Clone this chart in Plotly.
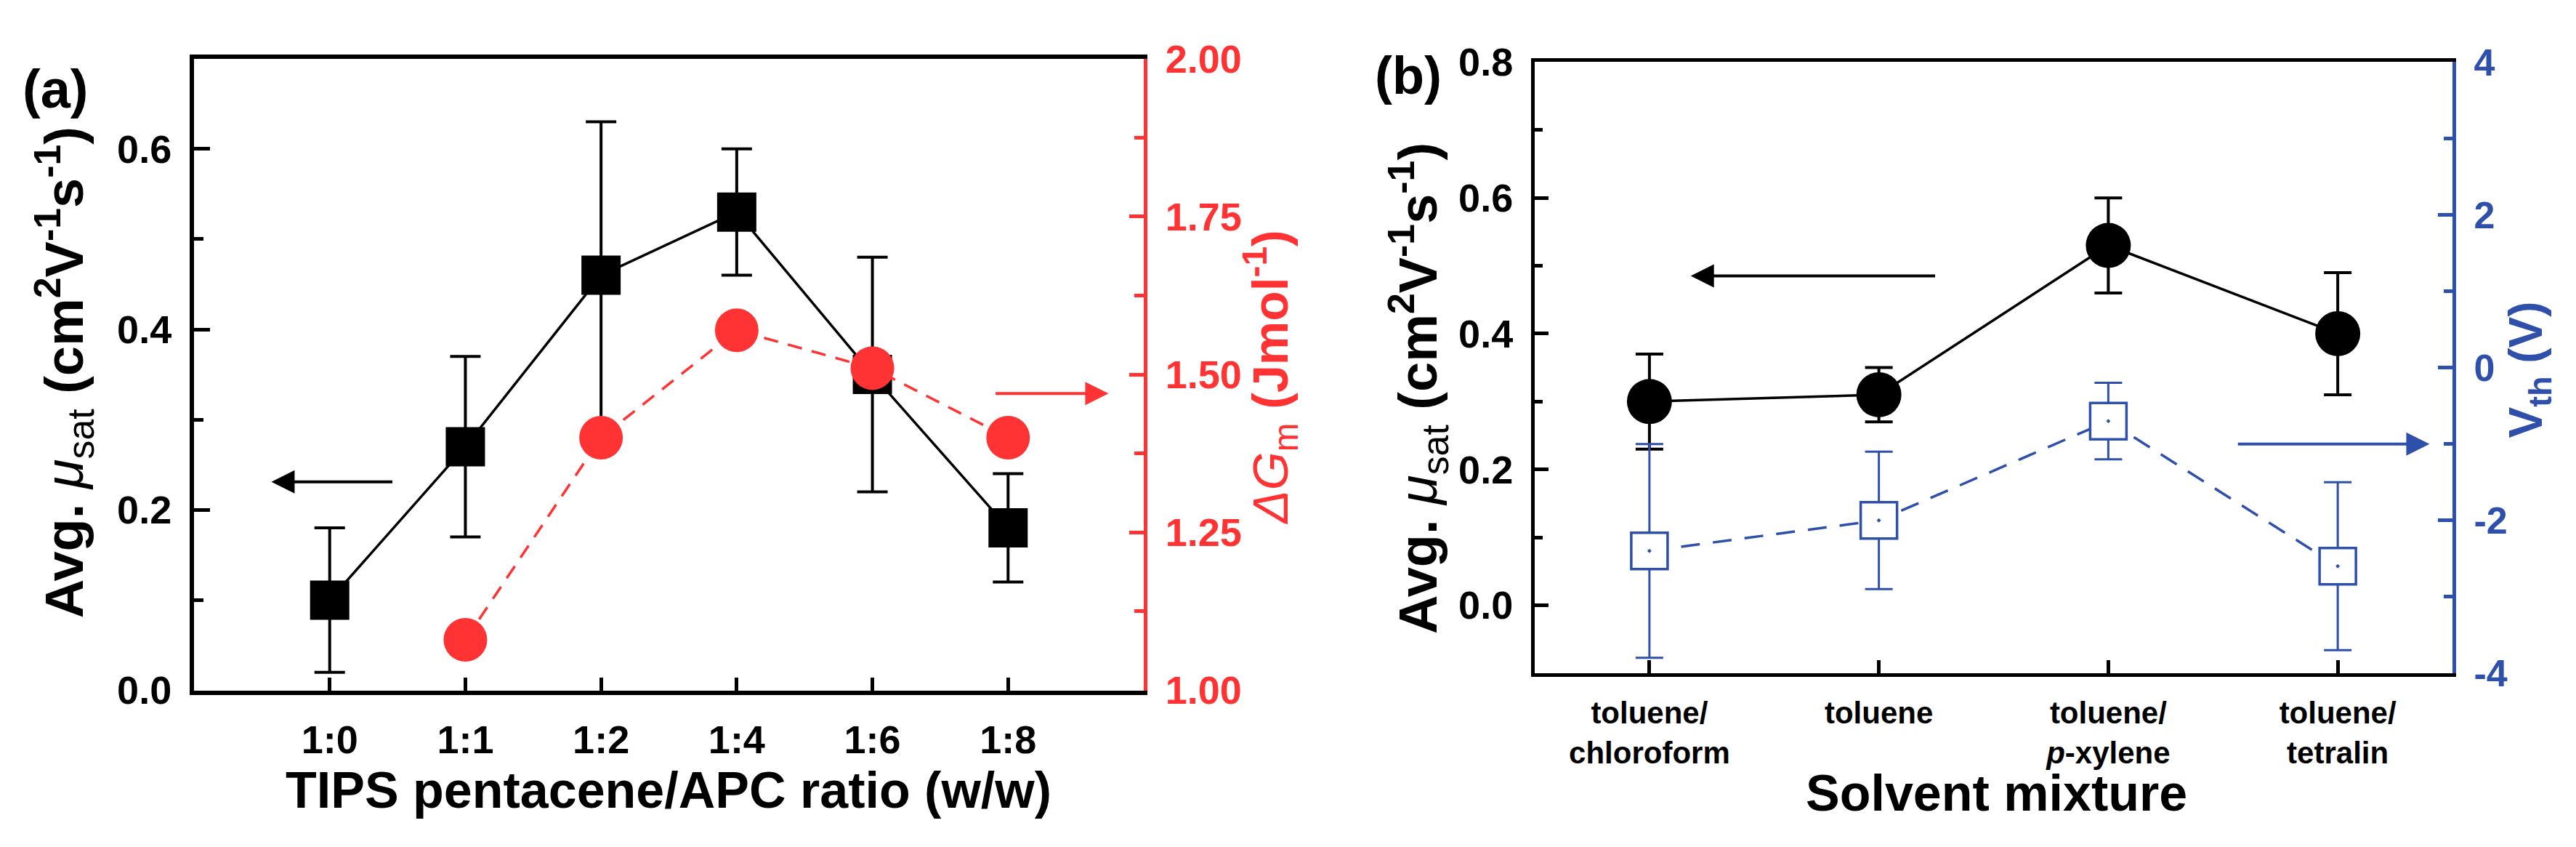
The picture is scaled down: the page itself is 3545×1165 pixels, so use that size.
import plotly.graph_objects as go

# ---------------- data ----------------
ratios = ["1:0", "1:1", "1:2", "1:4", "1:6", "1:8"]
mu_a = [0.10, 0.27, 0.46, 0.53, 0.35, 0.18]
mu_a_err = [0.08, 0.10, 0.17, 0.07, 0.13, 0.06]
dg_ratios = ["1:1", "1:2", "1:4", "1:6", "1:8"]
dg_m = [1.08, 1.40, 1.57, 1.51, 1.40]

solvents = ["toluene/chloroform", "toluene", "toluene/p-xylene", "toluene/tetralin"]
solvent_labels = ["toluene/<br>chloroform", "toluene", "toluene/<br><i>p</i>-xylene", "toluene/<br>tetralin"]
mu_b = [0.30, 0.31, 0.53, 0.40]
mu_b_err = [0.07, 0.04, 0.07, 0.09]
vth = [-2.4, -2.0, -0.7, -2.6]
vth_err = [1.4, 0.9, 0.5, 1.1]

vth_ticks = [-4, -2, 0, 2, 4]
vth_ticktext = ["-4", "-2", "0", "2", "4"]

# ---------------- style ----------------
FONT = "Liberation Sans, Arial, Helvetica, sans-serif"
BLACK = "#000000"
RED = "#FF3333"
BLUE = "#2E50AA"
W, H = 3545, 1165

fig = go.Figure()

fig.add_trace(go.Scatter(
    x=ratios, y=mu_a, xaxis="x", yaxis="y", mode="lines+markers",
    line=dict(color=BLACK, width=3.5),
    marker=dict(symbol="square", size=54, color=BLACK),
    error_y=dict(type="data", array=mu_a_err, color=BLACK, thickness=4, width=21),
    showlegend=False, cliponaxis=False))

fig.add_trace(go.Scatter(
    x=dg_ratios, y=dg_m, xaxis="x", yaxis="y2", mode="lines+markers",
    line=dict(color=RED, width=3.5, dash="20px,14px"),
    marker=dict(symbol="circle", size=60, color=RED),
    showlegend=False, cliponaxis=False))

fig.add_trace(go.Scatter(
    x=solvents, y=mu_b, xaxis="x2", yaxis="y3", mode="lines+markers",
    line=dict(color=BLACK, width=3.5),
    marker=dict(symbol="circle", size=62, color=BLACK),
    error_y=dict(type="data", array=mu_b_err, color=BLACK, thickness=4, width=19),
    showlegend=False, cliponaxis=False))

fig.add_trace(go.Scatter(
    x=solvents, y=vth, xaxis="x2", yaxis="y4", mode="lines+markers",
    line=dict(color=BLUE, width=3.5, dash="26px,18px"),
    marker=dict(symbol="square-dot", size=50, color="white", line=dict(color=BLUE, width=3.5)),
    error_y=dict(type="data", array=vth_err, color=BLUE, thickness=3, width=19),
    showlegend=False, cliponaxis=False))

tickfont_k = dict(family=FONT, size=54, color=BLACK, weight="bold")

def base_axis(**kw):
    d = dict(showgrid=False, zeroline=False, showline=True, ticks="inside",
             tickcolor=BLACK, linecolor=BLACK, tickfont=tickfont_k)
    d.update(kw)
    return d

xa_dom = [259 / W, 1566 / W]
ya_dom = [1 - 961 / H, 1 - 45 / H]
xb_dom = [2104 / W, 3367 / W]
yb_dom = [1 - 936 / H, 1 - 50 / H]

fig.update_layout(
    width=W, height=H, autosize=False,
    margin=dict(l=0, r=0, t=0, b=0),
    paper_bgcolor="white", plot_bgcolor="white",
    font=dict(family=FONT, color=BLACK),
    xaxis=base_axis(domain=xa_dom, anchor="y", type="category", categoryorder="array",
                    categoryarray=ratios, range=[-1, 6], linewidth=6, mirror=True,
                    ticklen=18, tickwidth=5, ticklabelstandoff=16),
    yaxis=base_axis(domain=ya_dom, anchor="x", range=[0, 0.7], tick0=0, dtick=0.2,
                    tickformat=".1f", linewidth=6, ticklen=22, tickwidth=5,
                    ticklabelstandoff=14,
                    minor=dict(tick0=0, dtick=0.1, ticks="inside", ticklen=13,
                               tickwidth=5, tickcolor=BLACK)),
    yaxis2=base_axis(overlaying="y", anchor="x", side="right", range=[1, 2], tick0=1,
                     dtick=0.25, tickformat=".2f", linecolor=RED, tickcolor=RED,
                     linewidth=5, ticklen=20, tickwidth=5, ticklabelstandoff=14,
                     tickfont=dict(family=FONT, size=54, color=RED, weight="bold"),
                     minor=dict(tick0=1, dtick=0.125, ticks="inside", ticklen=13,
                                tickwidth=5, tickcolor=RED)),
    xaxis2=base_axis(domain=xb_dom, anchor="y3", type="category", categoryorder="array",
                     categoryarray=solvents, tickmode="array", tickvals=solvents,
                     ticktext=solvent_labels, range=[-0.5, 3.5], linewidth=5, mirror=True,
                     ticklen=18, tickwidth=5, ticklabelstandoff=14,
                     tickfont=dict(family=FONT, size=42, color=BLACK, weight="bold")),
    yaxis3=base_axis(domain=yb_dom, anchor="x2", range=[-0.1, 0.8], tick0=0, dtick=0.2,
                     tickformat=".1f", linewidth=5, ticklen=19, tickwidth=5,
                     ticklabelstandoff=14,
                     minor=dict(tick0=0, dtick=0.1, ticks="inside", ticklen=11,
                                tickwidth=5, tickcolor=BLACK)),
    yaxis4=base_axis(overlaying="y3", anchor="x2", side="right", range=[-4, 4],
                     tickmode="array", tickvals=vth_ticks, ticktext=vth_ticktext,
                     linecolor=BLUE, tickcolor=BLUE, linewidth=5, ticklen=20,
                     tickwidth=5, ticklabelstandoff=14,
                     tickfont=dict(family=FONT, size=52, color=BLUE, weight="bold"),
                     minor=dict(tick0=0, dtick=1, ticks="inside", ticklen=12,
                                tickwidth=5, tickcolor=BLUE)),
)

def label(text, x, y, size, color=BLACK, angle=0, weight="bold"):
    fig.add_annotation(text=text, x=x, y=y, xref="paper", yref="paper",
                       xanchor="center", yanchor="middle", showarrow=False,
                       textangle=angle,
                       font=dict(family=FONT, size=size, color=color, weight=weight))

# panel labels
label("(a)", 68 / W, 1 - 89 / H, 74)
label("(b)", 1930 / W, 1 - 70 / H, 72)

# axis titles
mu_title = ("<b>Avg.</b> <i>μ</i><sub>sat</sub> "
            "<b>(cm<sup>2</sup>V<sup>-1</sup>s<sup>-1</sup>)</b>")
label(mu_title, 80 / W, 1 - 500 / H, 74, angle=-90, weight="normal")
label(mu_title, 1943 / W, 1 - 523 / H, 74, angle=-90, weight="normal")
label("TIPS pentacene/APC ratio (w/w)", 912 / W, 1 - 1106 / H, 70)
label("Solvent mixture", 2739 / W, 1 - 1110 / H, 70)
label("<i>ΔG</i><sub>m</sub> <b>(Jmol<sup>-1</sup>)</b>", 1740 / W, 1 - 508 / H, 68,
      color=RED, angle=-90, weight="normal")
label("V<sub>th</sub> (V)", 3472 / W, 1 - 496 / H, 64, color=BLUE, angle=-90)

# arrows pointing to the relevant axis
def arrow(x_head, x_tail, y, xref, yref, color):
    fig.add_annotation(x=x_head, y=y, ax=x_tail, ay=y, xref=xref, yref=yref,
                       axref=xref, ayref=yref, text="", showarrow=True,
                       arrowhead=2, arrowsize=1.6, arrowwidth=4, arrowcolor=color,
                       standoff=0, startstandoff=0)

arrow(-0.43, 0.47, 0.231, "x", "y", BLACK)
arrow(5.74, 4.90, 1.47, "x", "y2", RED)
arrow(0.18, 1.25, 0.485, "x2", "y3", BLACK)
arrow(3.40, 2.56, -1.0, "x2", "y4", BLUE)

fig.write_html("out.html")
